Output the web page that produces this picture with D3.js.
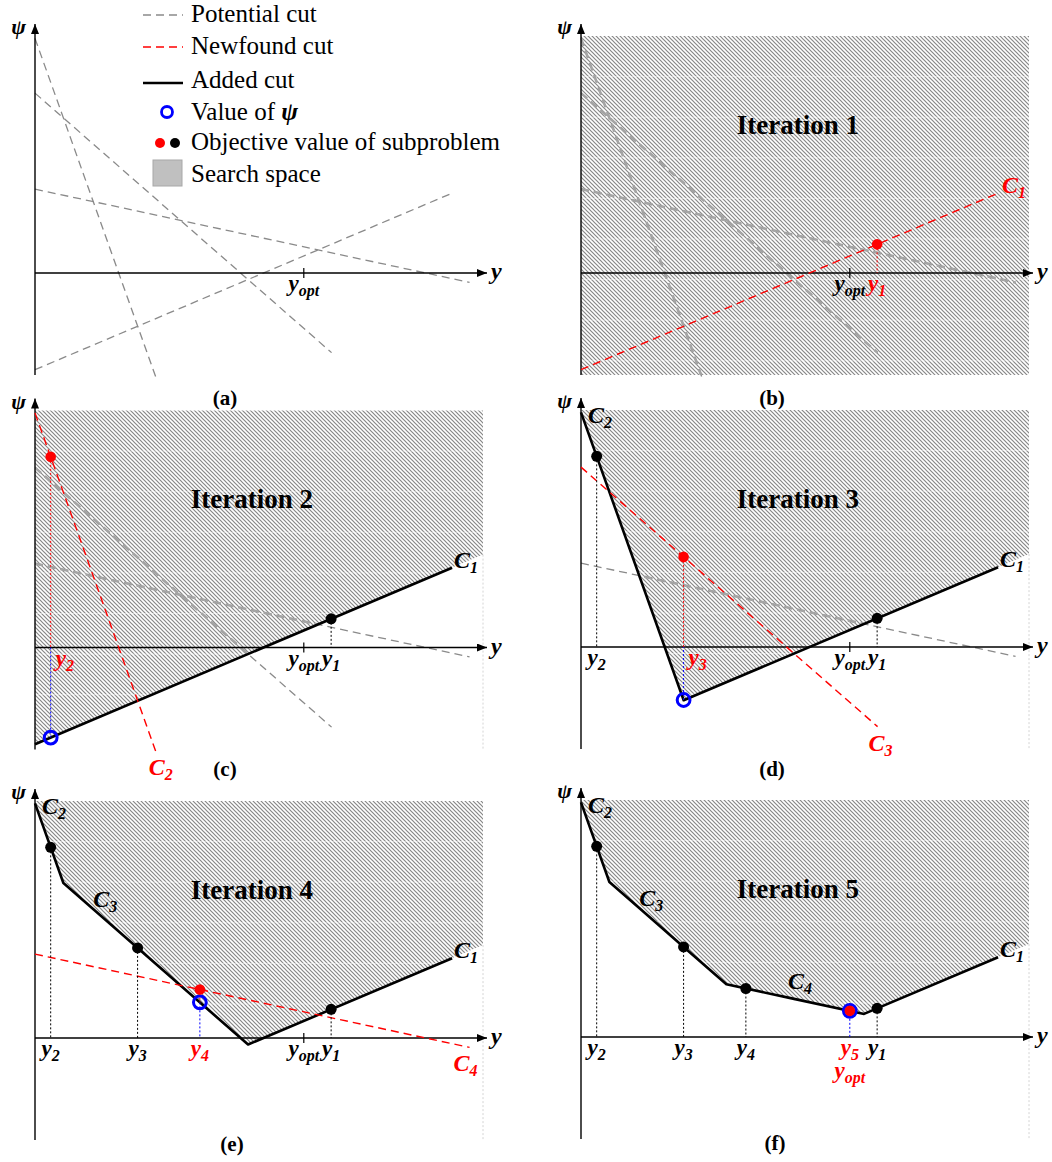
<!DOCTYPE html>
<html>
<head>
<meta charset="utf-8">
<script src="https://cdn.jsdelivr.net/npm/d3@7"></script>
<style>
  html, body { margin: 0; padding: 0; background: #fff; }
  svg { display: block; }
</style>
</head>
<body>
<svg id="fig" width="1052" height="1162"></svg>
<script>
// ---- Cuts: psi = intercept + slope * y, drawn from y = 0 to its end ----
const cutNames = ["C1", "C2", "C3", "C4"];
const cutIntercepts = [-4.08, 9.9, 7.59, 3.54];
const cutSlopes = [0.80, -5.3, -1.654, -0.406];
const cutEnds = [9.31, 2.72, 6.62, 9.70];

// ---- Iterates y_k found by the master problem ----
const iterateSubs = ["1", "2", "3", "4", "5"];
const iterates = [6.61, 0.35, 2.29, 3.68, 6.0];
const yOpt = 6.0;

// ---- Texts ----
const panelLetters = ["(a)", "(b)", "(c)", "(d)", "(e)", "(f)"];
const iterationTitles = ["", "Iteration 1", "Iteration 2", "Iteration 3", "Iteration 4", "Iteration 5"];
const legendLabels = ["Potential cut", "Newfound cut", "Added cut", "Value of ", "Objective value of subproblem", "Search space"];

// ---- Plot domain ----
const X_MAX = 10, PSI_TOP = 10, PSI_BOTTOM = -4.3;
const PX_W = 448, PX_PER_PSI = 23.7;

const FONT = '"Liberation Serif","Times New Roman",Times,serif';
const RED = "#ff0000", BLUE = "#0000ff", GREY = "#8a8a8a";
const LABEL_SIZE = 23, SUB_SIZE = 16;

const layout = [
  { x0: 35,  top: 36,    letterX: 225, letterY: 405 },
  { x0: 581, top: 36,    letterX: 772, letterY: 405 },
  { x0: 35,  top: 410.5, letterX: 225, letterY: 776 },
  { x0: 581, top: 410,   letterX: 772, letterY: 776 },
  { x0: 35,  top: 801,   letterX: 232, letterY: 1151 },
  { x0: 581, top: 800,   letterX: 775, letterY: 1150 }
];

const svg = d3.select("#fig");
const defs = svg.append("defs");

// diagonal "\" hatching for the search space, built from filled bands
const T = 4, H = 0.85;
const pat = defs.append("pattern")
  .attr("id", "hatch").attr("patternUnits", "userSpaceOnUse")
  .attr("width", T).attr("height", T);
pat.append("rect").attr("width", T).attr("height", T).attr("fill", "#fff");
pat.append("path")
  .attr("d", `M0,0 L${H},0 L${T},${T - H} L${T},${T} L${T - H},${T} L0,${H} Z ` +
             `M${T - H},0 L${T},0 L${T},${H} Z M0,${T - H} L0,${T} L${H},${T} Z`)
  .attr("fill", "#878787");

defs.append("marker")
  .attr("id", "arrow").attr("viewBox", "0 0 10 8")
  .attr("refX", 10).attr("refY", 4)
  .attr("markerWidth", 10).attr("markerHeight", 8)
  .attr("markerUnits", "userSpaceOnUse").attr("orient", "auto")
  .append("path").attr("d", "M0,0 L10,4 L0,8 Z").attr("fill", "#000");

const cutVal = (k, v) => cutIntercepts[k] + cutSlopes[k] * v;
const envelope = (set, v) => d3.max(set, k => cutVal(k, v));
const objective = v => envelope([0, 1, 2, 3], v);

function subText(g, x, y, base, sub, opts) {
  const o = Object.assign({ color: "#000", anchor: "middle", size: LABEL_SIZE, subSize: SUB_SIZE }, opts);
  const t = g.append("text")
    .attr("x", x).attr("y", y)
    .attr("text-anchor", o.anchor)
    .attr("fill", o.color)
    .style("font-family", FONT)
    .style("font-weight", "bold")
    .style("font-style", "italic")
    .style("font-size", o.size + "px");
  t.append("tspan").text(base);
  if (sub) t.append("tspan").attr("dy", 5).style("font-size", o.subSize + "px").text(sub);
  return t;
}

function breakpoints(set, lo, hi) {
  const pts = [lo, hi];
  set.forEach(i => set.forEach(j => {
    if (i < j && cutSlopes[i] !== cutSlopes[j]) {
      const xi = (cutIntercepts[j] - cutIntercepts[i]) / (cutSlopes[i] - cutSlopes[j]);
      if (xi > lo && xi < hi) pts.push(xi);
    }
  }));
  return pts.sort((a, b) => a - b);
}

function drawPanel(idx) {
  const L = layout[idx];
  const iter = idx; // 0 = overview panel, 1..5 = iterations
  const g = svg.append("g");
  const x = d3.scaleLinear().domain([0, X_MAX]).range([L.x0, L.x0 + PX_W]);
  const y = d3.scaleLinear().domain([PSI_BOTTOM, PSI_TOP])
    .range([L.top + PX_PER_PSI * (PSI_TOP - PSI_BOTTOM), L.top]);
  const line = d3.line().x(d => x(d[0])).y(d => y(d[1]));

  const added = iter >= 2 ? d3.range(0, iter - 1) : [];
  const newfound = (iter >= 1 && iter <= 4) ? iter - 1 : null;
  const potential = iter === 0 ? [0, 1, 2, 3] : d3.range(iter, 4);
  const cutPath = k => line([[0, cutVal(k, 0)], [cutEnds[k], cutVal(k, cutEnds[k])]]);

  // search space
  let clipId = null;
  if (iter >= 1) {
    let poly;
    if (added.length) {
      const bps = breakpoints(added, 0, X_MAX);
      const clamp = v => Math.max(PSI_BOTTOM, Math.min(PSI_TOP, v));
      poly = [[0, PSI_TOP], [X_MAX, PSI_TOP]]
        .concat(bps.slice().reverse().map(v => [v, clamp(envelope(added, v))]));
    } else {
      poly = [[0, PSI_TOP], [X_MAX, PSI_TOP], [X_MAX, PSI_BOTTOM], [0, PSI_BOTTOM]];
    }
    clipId = "clip" + idx;
    defs.append("clipPath").attr("id", clipId)
      .append("path").attr("d", line(poly) + "Z");
    g.append("path").attr("d", line(poly) + "Z").attr("fill", "url(#hatch)");
    // faint light bands across the hatching
    const bands = g.append("g").attr("clip-path", `url(#${clipId})`);
    d3.range(1, 9).forEach(k => {
      bands.append("line")
        .attr("x1", x(0)).attr("x2", x(X_MAX))
        .attr("y1", L.top + k * 40.6).attr("y2", L.top + k * 40.6)
        .attr("stroke", "#fff").attr("stroke-width", 1).attr("opacity", 0.5);
    });
    // faint right frame below the search space
    if (added.length) {
      g.append("line")
        .attr("x1", x(X_MAX)).attr("x2", x(X_MAX))
        .attr("y1", y(envelope(added, X_MAX))).attr("y2", y(PSI_BOTTOM))
        .attr("stroke", "#d4d4d4").attr("stroke-width", 1).attr("stroke-dasharray", "2,2");
    }
  }

  // potential cuts (wider and lighter where they cross the hatching)
  potential.forEach(k => {
    g.append("path")
      .attr("d", cutPath(k))
      .attr("fill", "none").attr("stroke", GREY).attr("stroke-width", 1.3)
      .attr("stroke-dasharray", "8,5");
    if (clipId) {
      g.append("path")
        .attr("d", cutPath(k)).attr("clip-path", `url(#${clipId})`)
        .attr("fill", "none").attr("stroke", "#a4a4a4").attr("stroke-width", 2.6)
        .attr("stroke-dasharray", "8,5");
    }
  });

  // axes
  g.append("line")
    .attr("x1", x(0)).attr("y1", y(PSI_BOTTOM)).attr("x2", x(0)).attr("y2", y(PSI_TOP) - 12)
    .attr("stroke", "#000").attr("stroke-width", 1.4).attr("marker-end", "url(#arrow)");
  g.append("line")
    .attr("x1", x(0)).attr("y1", y(0)).attr("x2", x(0) + 452).attr("y2", y(0))
    .attr("stroke", "#000").attr("stroke-width", 1.4).attr("marker-end", "url(#arrow)");
  subText(g, x(0) - 9, y(PSI_TOP) - 2, "ψ", null, { anchor: "end", size: 22 });
  subText(g, x(0) + 456, y(0) + 6, "y", null, { anchor: "start", size: 24 });

  if (iter <= 4) {
    g.append("line")
      .attr("x1", x(yOpt)).attr("x2", x(yOpt))
      .attr("y1", y(0) - 5).attr("y2", y(0) + 5)
      .attr("stroke", "#000").attr("stroke-width", 1.2);
  }

  // added cuts: upper envelope
  if (added.length) {
    const endX = cutEnds[0];
    const bps = breakpoints(added, 0, endX);
    g.append("path")
      .attr("d", line(bps.map(v => [v, envelope(added, v)])))
      .attr("fill", "none").attr("stroke", "#000").attr("stroke-width", 2.6)
      .attr("stroke-linejoin", "round");
  }

  // newfound cut
  if (newfound !== null) {
    g.append("path")
      .attr("d", cutPath(newfound))
      .attr("fill", "none").attr("stroke", RED).attr("stroke-width", 1.4)
      .attr("stroke-dasharray", "8,5");
  }

  // previous iterates: guide lines
  const prev = iter >= 2 ? d3.range(0, iter - 1) : [];
  prev.forEach(j => {
    const v = iterates[j], o = objective(v);
    g.append("line")
      .attr("x1", x(v)).attr("x2", x(v)).attr("y1", y(o)).attr("y2", y(0))
      .attr("stroke", "#000").attr("stroke-width", 1).attr("stroke-dasharray", "2,2");
  });

  // current iterate: guide lines
  let curBlue = null;
  if (iter >= 1) {
    const j = iter - 1, v = iterates[j], o = objective(v);
    if (added.length) curBlue = envelope(added, v);
    const redLow = curBlue === null ? 0 : Math.max(0, curBlue);
    g.append("line")
      .attr("x1", x(v)).attr("x2", x(v)).attr("y1", y(o)).attr("y2", y(redLow))
      .attr("stroke", RED).attr("stroke-width", 1).attr("stroke-dasharray", "2,2");
    if (curBlue !== null) {
      g.append("line")
        .attr("x1", x(v)).attr("x2", x(v)).attr("y1", y(curBlue)).attr("y2", y(0))
        .attr("stroke", BLUE).attr("stroke-width", 1).attr("stroke-dasharray", "2,2");
    }
  }

  // objective values and psi values
  prev.forEach(j => {
    const v = iterates[j];
    g.append("circle").attr("cx", x(v)).attr("cy", y(objective(v))).attr("r", 5.5).attr("fill", "#000");
  });
  if (iter >= 1) {
    const v = iterates[iter - 1];
    if (curBlue !== null) {
      g.append("circle").attr("cx", x(v)).attr("cy", y(curBlue)).attr("r", 6.4)
        .attr("fill", "none").attr("stroke", BLUE).attr("stroke-width", 3);
    }
    g.append("circle").attr("cx", x(v)).attr("cy", y(objective(v))).attr("r", 5.3).attr("fill", RED);
  }

  // tick labels on the y axis
  const tickY = y(0) + 18;
  prev.forEach(j => subText(g, x(iterates[j]), tickY, "y", iterateSubs[j]));
  if (iter >= 1) {
    const j = iter - 1;
    const below = curBlue !== null && curBlue < 0;
    subText(g, below ? x(iterates[j]) + 5 : x(iterates[j]), tickY, "y", iterateSubs[j],
      { color: RED, anchor: below ? "start" : "middle" });
  }
  if (iter <= 4) {
    subText(g, x(yOpt), tickY, "y", "opt");
  } else {
    subText(g, x(yOpt), y(0) + 41, "y", "opt", { color: RED });
  }

  // cut labels
  const CS = 24;
  if (newfound !== null) {
    const k = newfound, ex = cutEnds[k], ey = cutVal(k, ex);
    if (k === 0) {
      subText(g, x(ex) + 4, y(ey), "C", "1", { color: RED, anchor: "start", size: CS });
    } else {
      const off = { 1: [4, 20], 2: [3, 24], 3: [-4, 24] }[k];
      subText(g, x(ex) + off[0], y(ey) + off[1], "C", cutNames[k].slice(1), { color: RED, size: CS });
    }
  }
  added.forEach(k => {
    const sub = cutNames[k].slice(1);
    if (k === 0) {
      subText(g, x(cutEnds[0]) + 2, y(cutVal(0, cutEnds[0])), "C", sub, { anchor: "start", size: CS });
    } else if (k === 1) {
      subText(g, x(0) + 7, y(PSI_TOP) + 13, "C", sub, { anchor: "start", size: CS });
    } else if (k === 2) {
      subText(g, x(1.57), y(cutVal(2, 1.57)) - 13, "C", sub, { size: CS });
    } else {
      subText(g, x(4.89), y(cutVal(3, 4.89)) - 11, "C", sub, { size: CS });
    }
  });

  // iteration title
  if (iterationTitles[iter]) {
    g.append("text")
      .attr("x", x(4.84)).attr("y", y(5.87))
      .attr("text-anchor", "middle")
      .style("font-family", FONT).style("font-weight", "bold").style("font-size", "27px")
      .text(iterationTitles[iter]);
  }

  // panel letter
  g.append("text")
    .attr("x", L.letterX).attr("y", L.letterY)
    .attr("text-anchor", "middle")
    .style("font-family", FONT).style("font-weight", "bold").style("font-size", "21px")
    .text(panelLetters[idx]);
}

d3.range(6).forEach(drawPanel);

// ---- Legend ----
const leg = svg.append("g");
const legY = [15, 47, 83, 112, 143, 173];
const legBase = [22, 54, 88, 120, 150, 182];
leg.append("line").attr("x1", 143).attr("x2", 183).attr("y1", legY[0]).attr("y2", legY[0])
  .attr("stroke", GREY).attr("stroke-width", 1.3).attr("stroke-dasharray", "8,5");
leg.append("line").attr("x1", 143).attr("x2", 183).attr("y1", legY[1]).attr("y2", legY[1])
  .attr("stroke", RED).attr("stroke-width", 1.3).attr("stroke-dasharray", "8,5");
leg.append("line").attr("x1", 143).attr("x2", 183).attr("y1", legY[2]).attr("y2", legY[2])
  .attr("stroke", "#000").attr("stroke-width", 2.6);
leg.append("circle").attr("cx", 167).attr("cy", legY[3]).attr("r", 5.5)
  .attr("fill", "none").attr("stroke", BLUE).attr("stroke-width", 2.8);
leg.append("circle").attr("cx", 160).attr("cy", legY[4]).attr("r", 5).attr("fill", RED);
leg.append("circle").attr("cx", 175).attr("cy", legY[4]).attr("r", 5).attr("fill", "#000");
leg.append("rect").attr("x", 153).attr("y", 160).attr("width", 29).attr("height", 26)
  .attr("fill", "#c0c0c0").attr("stroke", "#a8a8a8").attr("stroke-width", 1);

legendLabels.forEach((s, i) => {
  const t = leg.append("text").attr("x", 191).attr("y", legBase[i])
    .style("font-family", FONT).style("font-size", "25px").text(s);
  if (i === 3) {
    t.append("tspan").style("font-weight", "bold").style("font-style", "italic").text("ψ");
  }
});
</script>
</body>
</html>
